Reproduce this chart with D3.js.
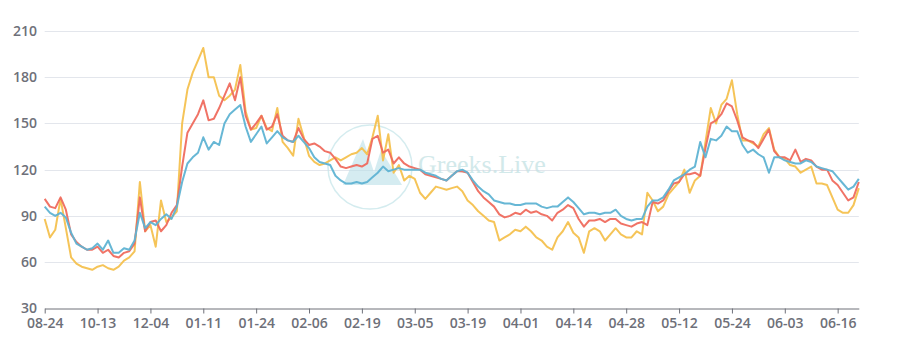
<!DOCTYPE html>
<html><head><meta charset="utf-8">
<script src="https://cdn.jsdelivr.net/npm/d3@7"></script>
<style>body{margin:0;background:#fff}svg{display:block}</style>
</head><body><svg id="c" width="899" height="351"></svg>
<script>
const tickLabels = ["08-24","10-13","12-04","01-11","01-24","02-06","02-19","03-05","03-19","04-01","04-14","04-28","05-12","05-24","06-03","06-16"];
const yTicks = [30,60,90,120,150,180,210];
const seriesNames = ["Series A","Series B","Series C"];
const seriesColors = ["#f4c14f","#ef6b5e","#5fb3d3"];
const yellow = [88,76,81,101,82,63,59,57,56,55,
57,58,56,55,57,61,63,67,112,80,
84,70,100,86,89,93,150,172,183,191,
199,180,180,168,165,168,172,188,158,146,
147,155,147,145,160,138,134,129,153,141,
129,125,123,124,126,128,126,128,130,131,
134,130,141,155,126,143,118,123,113,116,
114,105,101,105,109,108,107,108,109,106,
100,97,93,90,87,86,74,76,78,81,
80,83,80,76,74,70,68,76,80,86,
79,76,66,80,82,80,74,78,82,78,
76,76,80,78,105,100,93,96,104,108,
112,120,105,113,116,138,160,150,162,166,
178,156,139,139,137,135,143,147,133,128,
127,123,122,118,120,122,111,111,110,102,
94,92,92,97,108];
const red = [101,96,95,102,94,78,73,70,68,68,
70,66,68,64,63,66,67,72,102,80,
86,87,80,84,92,97,122,144,150,156,
165,152,153,160,168,176,165,180,155,146,
150,155,146,148,156,142,139,138,147,140,
136,137,135,132,131,127,122,121,122,123,
122,124,140,142,131,133,124,128,124,122,
121,120,117,116,115,114,113,116,119,119,
118,112,106,102,99,96,91,89,90,92,
91,94,92,93,91,90,87,92,94,97,
95,88,83,87,87,88,86,88,88,85,
84,83,85,86,84,99,98,100,106,111,
112,117,117,118,116,134,150,152,156,163,
161,152,141,139,138,134,140,146,132,128,
128,126,133,125,127,126,122,120,120,113,
110,105,100,102,112];
const blue = [96,92,90,92,89,79,72,70,68,69,
72,68,74,66,66,69,68,74,92,82,
86,84,88,91,88,96,112,124,128,131,
141,133,138,136,150,156,159,162,148,138,
143,148,137,141,145,141,139,138,142,138,
134,128,125,124,123,116,113,111,111,112,
111,112,115,118,122,119,120,121,120,120,
120,120,118,117,116,114,113,116,119,120,
118,113,109,106,104,100,99,98,98,97,
97,98,98,98,96,95,96,96,99,102,
99,95,91,92,92,91,92,92,94,90,
88,87,88,88,96,100,100,102,107,113,
115,117,120,122,138,128,140,139,142,148,
145,145,136,131,133,130,128,118,128,128,
126,125,124,124,126,125,122,121,120,119,
115,111,107,109,114];
const categories = d3.range(red.length);
const labelStep = 10;

const svg = d3.select("#c");
const x = d3.scaleLinear().domain([0, categories.length - 1]).range([44.7, 858.8]);
const y = d3.scaleLinear().domain([30, 210]).range([308.3, 31]);
const font = "'Open Sans', sans-serif";
const txtColor = "#6e7079";

// grid
svg.append("g").selectAll("line").data(yTicks.slice(1)).join("line")
  .attr("x1", x.range()[0]).attr("x2", x.range()[1])
  .attr("y1", d => Math.round(y(d)) + 0.5).attr("y2", d => Math.round(y(d)) + 0.5)
  .attr("stroke", "#e3e6ec").attr("stroke-width", 1);

// y labels
svg.append("g").selectAll("text").data(yTicks).join("text")
  .attr("x", 37).attr("y", d => y(d)).attr("dy", "0.35em")
  .attr("text-anchor", "end").attr("font-family", font).attr("font-weight", 600)
  .attr("font-size", 14).attr("fill", txtColor).text(d => d);

// watermark
const wm = svg.append("g").attr("opacity", 0.75);
wm.append("circle").attr("cx", 370).attr("cy", 167).attr("r", 42)
  .attr("fill", "none").attr("stroke", "#c6e6ea").attr("stroke-width", 1.5);
wm.append("path").attr("d", "M343,185 L363,139 L374,172 L381,150 L402,185 Z")
  .attr("fill", "#b9e0e8").attr("opacity", 0.8);
wm.append("text").attr("x", 418).attr("y", 173).attr("font-family", "'Liberation Serif', serif")
  .attr("font-size", 26).attr("fill", "#c4e2e4").text("Greeks.Live");

// x axis
const xAxis = d3.axisBottom(x)
  .tickValues(categories.filter(i => i % labelStep === 0))
  .tickFormat(i => tickLabels[i / labelStep])
  .tickSize(5).tickSizeOuter(0).tickPadding(5);
const gx = svg.append("g").attr("transform", "translate(0,308.5)").call(xAxis);
gx.select(".domain").attr("stroke", txtColor);
gx.selectAll(".tick line").attr("stroke", txtColor);
gx.selectAll("text").attr("font-family", font).attr("font-weight", 600)
  .attr("font-size", 14).attr("fill", txtColor);

// lines
const line = d3.line().x((d, i) => x(categories[i])).y(d => y(d));
[yellow, red, blue].forEach((s, k) => {
  svg.append("path").datum(s).attr("d", line)
    .attr("fill", "none").attr("stroke", seriesColors[k])
    .attr("stroke-width", 2).attr("stroke-linejoin", "round")
    .attr("opacity", 0.95);
});
</script></body></html>
